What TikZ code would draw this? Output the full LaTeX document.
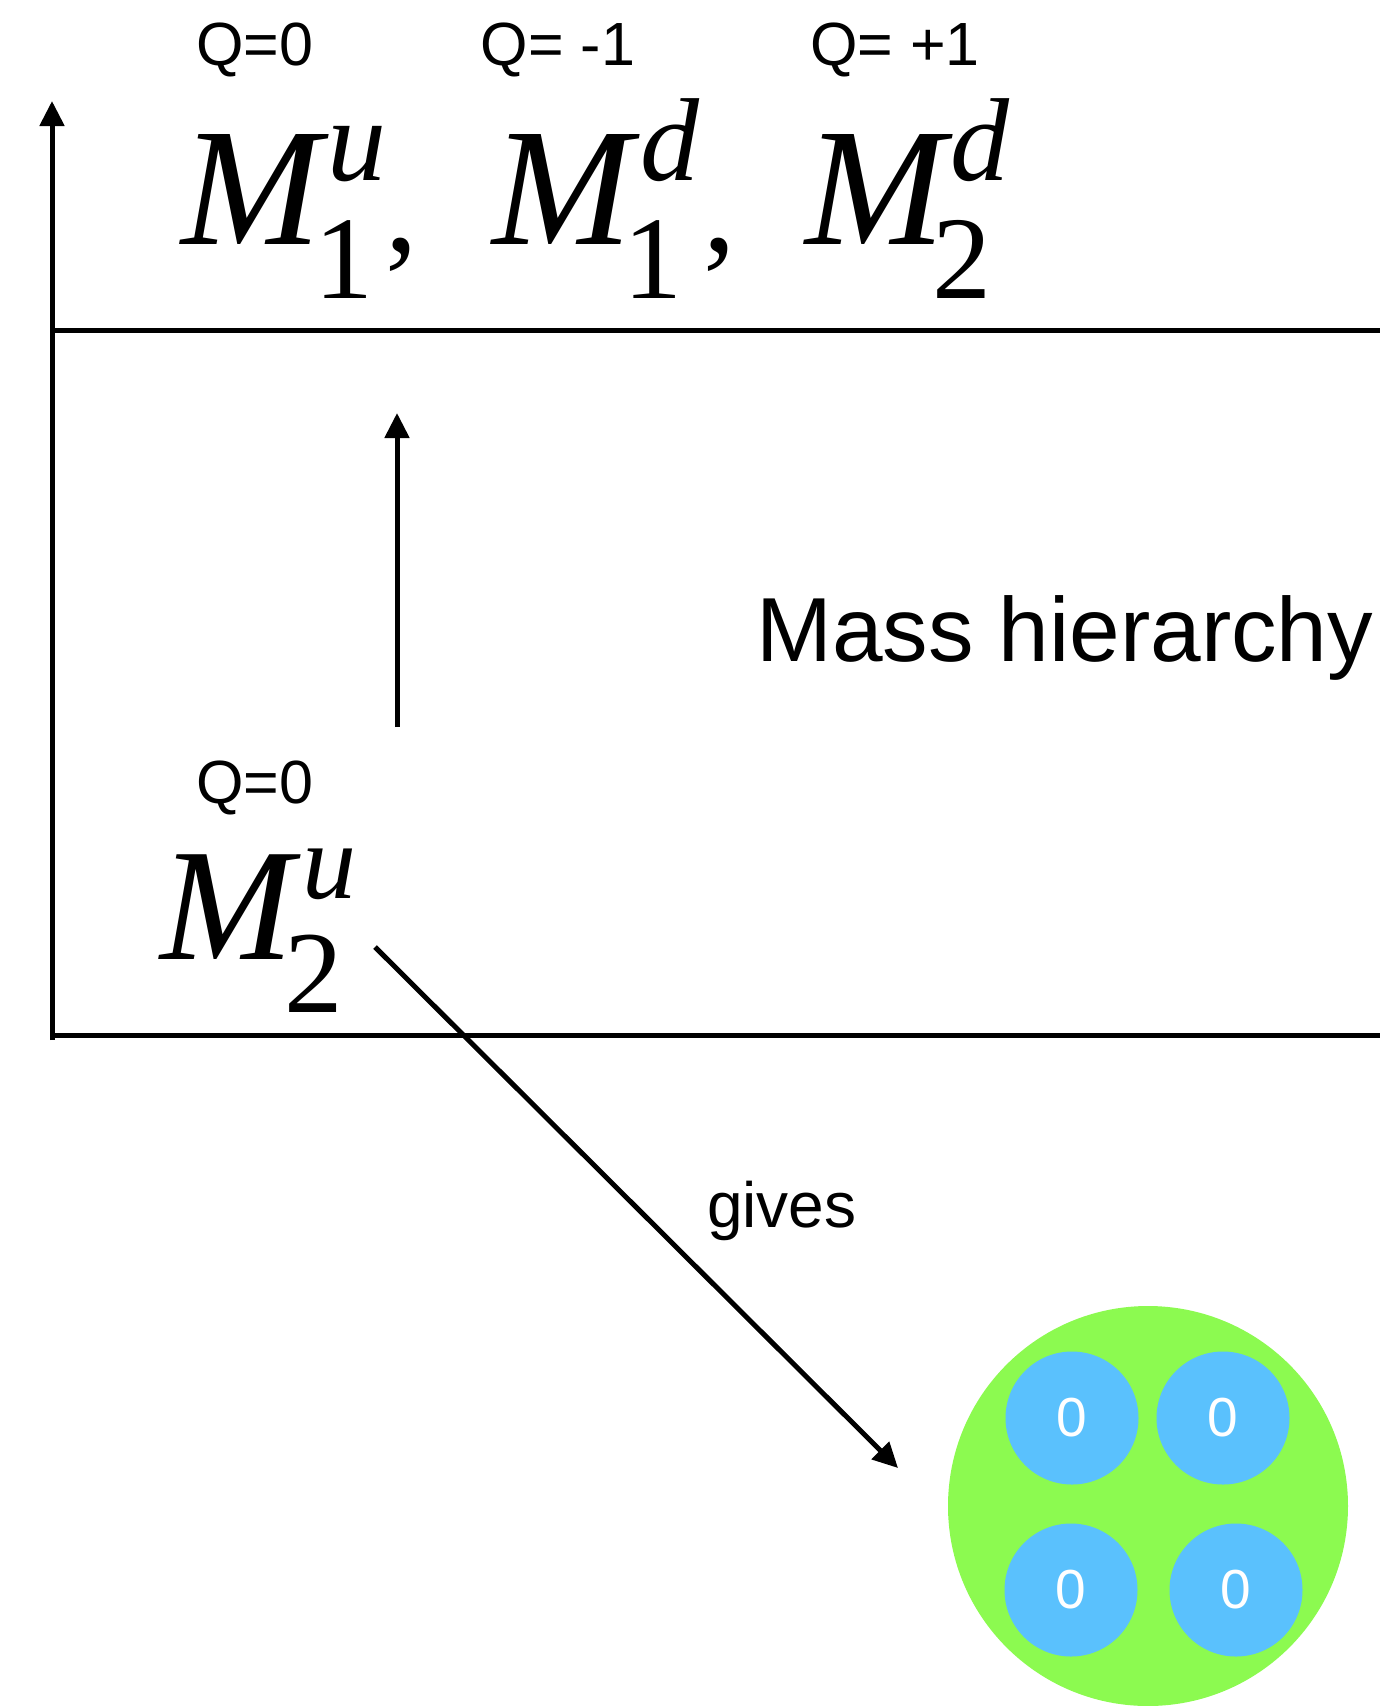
\documentclass[tikz,border=0pt]{standalone}
\usepackage{fontspec}
\setmainfont{Liberation Serif}
\newfontfamily\sansf{Liberation Sans}
\usetikzlibrary{arrows.meta}
\definecolor{ballgreen}{HTML}{8CFA50}
\definecolor{ballblue}{HTML}{5AC1FD}
\tikzset{
  axisline/.style={line width=5pt},
  arr/.style={line width=5pt,-{Triangle[width=24pt,length=25pt]}},
  qlbl/.style={inner sep=0pt, anchor=base, font=\sansf\fontsize{61}{61}\selectfont},
  bigM/.style={inner sep=0pt, anchor=base west, font=\itshape\fontsize{168}{168}\selectfont},
  supit/.style={inner sep=0pt, anchor=base west, font=\itshape\fontsize{118}{118}\selectfont},
  subup/.style={inner sep=0pt, anchor=base west, font=\upshape\fontsize{118}{118}\selectfont},
  commaglyph/.style={inner sep=0pt, anchor=base west, font=\upshape\fontsize{130}{130}\selectfont},
  blueball/.style={circle, fill=ballblue, minimum size=133pt, inner sep=0pt, text=white, font=\sansf\fontsize{55}{55}\selectfont},
  plain/.style={inner sep=0pt, anchor=base west}
}
\begin{document}
\begin{tikzpicture}[x=1pt,y=-1pt]
\useasboundingbox (0,0) rectangle (1398,1706);
% axes
\coordinate (axbot) at (52,1040);
\coordinate (axtop) at (52,101);
\draw[arr] (axbot) -- (axtop);
\coordinate (tl) at (50,330);
\coordinate (tr) at (1380,330);
\draw[axisline] (tl) -- (tr);
\coordinate (bl) at (50,1035);
\coordinate (br) at (1380,1035);
\draw[axisline] (bl) -- (br);
% charge labels
\node[qlbl] (q1) at (255,65) {Q=0};
\node[qlbl] (q2) at (558,65) {Q= -1};
\node[qlbl] (q3) at (895,65) {Q= +1};
\node[qlbl] (q4) at (255,803) {Q=0};
% top states
\node[bigM] (ma) at (181,244) {M};
\node[supit] (mau) at (327,180) {u};
\node[subup] (mas) at (314,298) {1};
\node[commaglyph] (ca) at (385,251) {,};
\node[bigM] (mb) at (492,244) {M};
\node[supit] (mbu) at (640,180) {d};
\node[subup] (mbs) at (623,298) {1};
\node[commaglyph] (cb) at (703,251) {,};
\node[bigM] (mc) at (805,244) {M};
\node[supit] (mcu) at (950,180) {d};
\node[subup] (mcs) at (932,298) {2};
% bottom state
\node[plain, font=\itshape\fontsize{160}{160}\selectfont] (md) at (160,959) {M};
\node[plain, font=\itshape\fontsize{108}{108}\selectfont] (mdu) at (302,898) {u};
\node[plain, font=\upshape\fontsize{117}{117}\selectfont] (mds) at (284,1012) {2};
% hierarchy arrow
\coordinate (hbot) at (397,727);
\coordinate (htop) at (397,413);
\draw[arr] (hbot) -- (htop);
\node[plain, font=\sansf\fontsize{91}{91}\selectfont] (mass) at (756,661) {Mass hierarchy};
% gives arrow
\coordinate (gstart) at (375,947);
\coordinate (gend) at (898,1468);
\draw[arr] (gstart) -- (gend);
\node[plain, font=\sansf\fontsize{64}{64}\selectfont] (gives) at (707,1227) {gives};
% composite
\node[circle, fill=ballgreen, minimum size=400pt, inner sep=0pt] (ball) at (1148,1506) {};
\node[blueball] (b1) at (1072,1418) {0};
\node[blueball] (b2) at (1223,1418) {0};
\node[blueball] (b3) at (1071,1590) {0};
\node[blueball] (b4) at (1236,1590) {0};
\end{tikzpicture}
\end{document}
